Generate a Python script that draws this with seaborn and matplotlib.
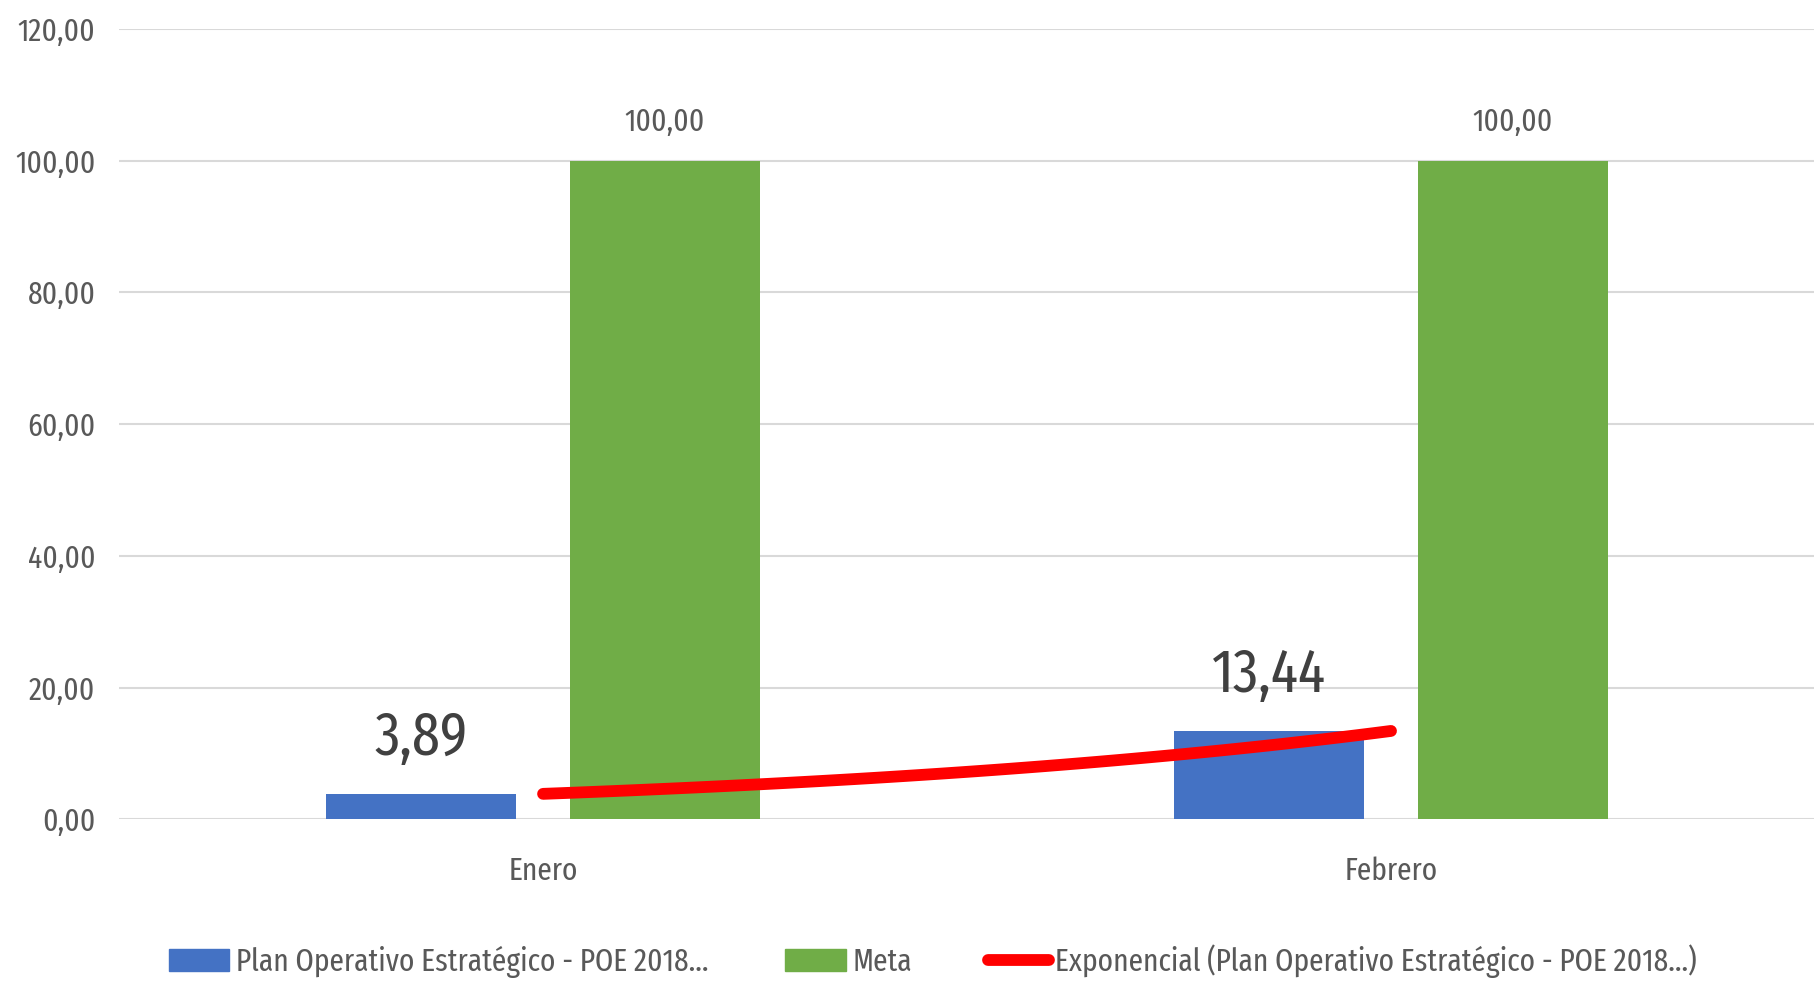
import numpy as np
import pandas as pd
import matplotlib
matplotlib.use("Agg")
import matplotlib.pyplot as plt
from matplotlib.lines import Line2D
from matplotlib.patches import Patch
import seaborn as sns

meses = ["Enero", "Febrero"]
poe = [3.89, 13.44]
meta = [100.00, 100.00]
serie_poe = "Plan Operativo Estratégico - POE 2018..."
serie_meta = "Meta"
serie_trend = "Exponencial (Plan Operativo Estratégico - POE 2018...)"
y_ticks = [0, 20, 40, 60, 80, 100, 120]

df = pd.DataFrame({
    "mes": meses * 2,
    "valor": poe + meta,
    "serie": [serie_poe] * len(meses) + [serie_meta] * len(meses),
})

sns.set_style("white")
plt.rcParams["font.family"] = ["Fira Sans Extra Condensed", "Open Sans", "DejaVu Sans"]
plt.rcParams["font.weight"] = "normal"

azul = "#4472C4"
verde = "#70AD47"
rojo = "#FF0000"
gris_txt = "#595959"

fig = plt.figure(figsize=(18.15, 9.82), dpi=100)
ax = fig.add_axes([0.0656, 0.1655, 0.9344, 0.805])

sns.barplot(data=df, x="mes", y="valor", hue="serie", palette=[azul, verde],
            saturation=1, width=0.574, gap=0.22, linewidth=0, ax=ax,
            legend=False, zorder=2)

# linea de tendencia exponencial ajustada a la serie POE
xs = np.arange(len(poe))
b, a = np.polyfit(xs, np.log(poe), 1)
xt = np.linspace(0, len(poe) - 1, 50)
ax.plot(xt, np.exp(a + b * xt), color=rojo, lw=8.5, solid_capstyle="round", zorder=4)

fmt = lambda v: f"{v:.2f}".replace(".", ",")
ax.bar_label(ax.containers[0], labels=[fmt(v) for v in poe], padding=19,
             fontsize=44, color="#404040")
ax.bar_label(ax.containers[1], labels=[fmt(v) for v in meta], padding=17,
             fontsize=23, color=gris_txt)

ax.set_ylim(0, 120)
ax.set_xlim(-0.5, len(meses) - 0.5)
ax.set_yticks(y_ticks)
ax.set_yticklabels([fmt(v) for v in y_ticks])
ax.yaxis.grid(True, color="#D9D9D9", lw=1.5, zorder=0)
ax.set_axisbelow(True)
for s in ax.spines.values():
    s.set_visible(False)
ax.tick_params(axis="both", length=0, labelsize=23, labelcolor=gris_txt)
ax.tick_params(axis="x", pad=26)
ax.tick_params(axis="y", pad=17)
ax.set_xlabel("")
ax.set_ylabel("")

handles = [
    Patch(color=azul),
    Patch(color=verde),
    Line2D([0], [0], color=rojo, lw=8.5, solid_capstyle="round"),
]
fig.legend(handles, [serie_poe, serie_meta, serie_trend], loc="center",
           bbox_to_anchor=(0.514, 0.021), ncol=3, frameon=False, fontsize=23,
           labelcolor=gris_txt, handlelength=1.9, handletextpad=0.2,
           columnspacing=2.4)

fig.savefig("out.png", dpi=100)
